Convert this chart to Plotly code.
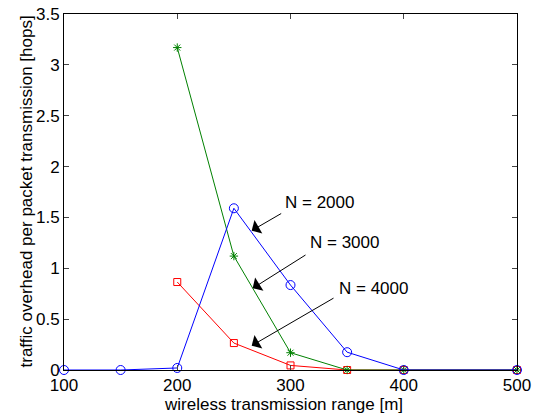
import plotly.graph_objects as go

x_range = [100, 150, 200, 250, 300, 350, 400, 500]
n2000 = [0.0, 0.0, 0.02, 1.59, 0.835, 0.175, 0.0, 0.0]
x_hi = [200, 250, 300, 350, 400, 500]
n3000 = [3.17, 1.12, 0.17, 0.0, 0.0, 0.0]
n4000 = [0.865, 0.265, 0.045, 0.0, 0.0, 0.0]

x_ticks = [100, 200, 300, 400, 500]
y_ticks = [0, 0.5, 1, 1.5, 2, 2.5, 3, 3.5]
y_tick_labels = ["0", "0.5", "1", "1.5", "2", "2.5", "3", "3.5"]

x_title = "wireless transmission range [m]"
y_title = "traffic overhead per packet transmission [hops]"

labels = ["N = 2000", "N = 3000", "N = 4000"]
label_pos = [(326, 1.642), (348, 1.249), (373.3, 0.806)]
arrow_tail = [(293.1, 1.547), (314.6, 1.140), (339.3, 0.715)]
arrow_tip = [(265.7, 1.370), (266.6, 0.803), (265.7, 0.239)]

FONT = "Liberation Sans, Arial, sans-serif"

fig = go.Figure()
fig.add_trace(go.Scatter(x=x_hi, y=n4000, mode="lines+markers",
                         line=dict(color="#ff0000", width=1),
                         marker=dict(symbol="square-open", size=7, color="#ff0000", line=dict(width=1)),
                         cliponaxis=False, name="N = 4000"))
fig.add_trace(go.Scatter(x=x_hi, y=n3000, mode="lines+markers",
                         line=dict(color="#008000", width=1),
                         marker=dict(symbol="asterisk-open", size=7, color="#008000", line=dict(width=1, color="#008000")),
                         cliponaxis=False, name="N = 3000"))
fig.add_trace(go.Scatter(x=x_range, y=n2000, mode="lines+markers",
                         line=dict(color="#0000ff", width=1),
                         marker=dict(symbol="circle-open", size=9, color="#0000ff", line=dict(width=1)),
                         cliponaxis=False, name="N = 2000"))

for lab, (tx, ty), (ax_, ay_), (hx, hy) in zip(labels, label_pos, arrow_tail, arrow_tip):
    fig.add_annotation(x=hx, y=hy, ax=ax_, ay=ay_, xref="x", yref="y", axref="x", ayref="y",
                       text="", showarrow=True, arrowhead=1, arrowsize=2.6, arrowwidth=1,
                       arrowcolor="black", standoff=0, startstandoff=0)
    fig.add_annotation(x=tx, y=ty, xref="x", yref="y", text=lab, showarrow=False,
                       font=dict(size=17, color="black", family=FONT))

# axis titles placed as annotations to match reference placement
fig.add_annotation(x=0.5, y=0, xref="paper", yref="paper", yshift=-34, xshift=-7, yanchor="middle",
                   text=x_title, showarrow=False, font=dict(size=17, family=FONT, color="black"))
fig.add_annotation(xref="paper", yref="paper", x=0, y=0.5, xshift=-50, text=y_title,
                   textangle=-90, showarrow=False, font=dict(size=17, family=FONT, color="black"))

fig.update_layout(
    width=534, height=414,
    margin=dict(l=64, r=17, t=14, b=44),
    paper_bgcolor="white", plot_bgcolor="white",
    showlegend=False,
    font=dict(family=FONT, size=17, color="black"),
)
fig.update_xaxes(range=[100, 500], tickvals=x_ticks, ticks="inside", ticklen=5,
                 showline=True, linecolor="black", linewidth=1, mirror="ticks",
                 showgrid=False, zeroline=False, tickfont=dict(size=17), automargin=False)
fig.update_yaxes(range=[0, 3.5], tickvals=y_ticks, ticktext=y_tick_labels, ticks="inside", ticklen=5,
                 showline=True, linecolor="black", linewidth=1, mirror="ticks",
                 showgrid=False, zeroline=False, tickfont=dict(size=17), automargin=False)

fig.write_html("out.html", config={"displayModeBar": False},
               post_script="document.body.style.margin='0';document.body.style.overflow='hidden';")
